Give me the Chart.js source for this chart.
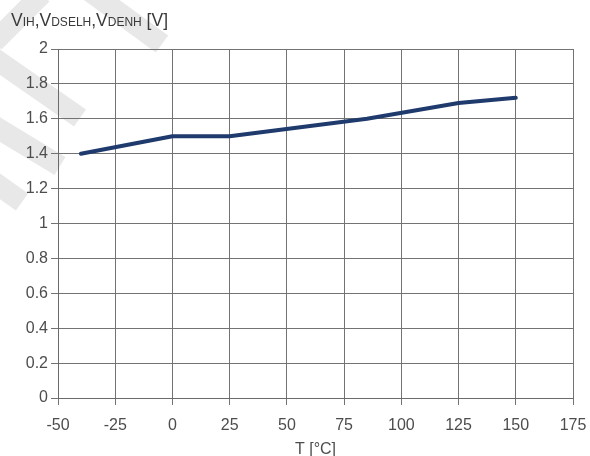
<!DOCTYPE html>
<html>
<head>
<meta charset="utf-8">
<script src="https://cdn.jsdelivr.net/npm/chart.js@4.4.1/dist/chart.umd.min.js"></script>
<style>
  html, body { margin: 0; padding: 0; background: #ffffff; }
  #wrap { width: 590px; height: 456px; position: relative; }
</style>
</head>
<body>
<div id="wrap"><canvas id="c" width="590" height="456"></canvas></div>
<script>
// Temperature (°C) and high-level input threshold voltage (V)
const temperatures = [-40, 0, 25, 85, 125, 150];
const thresholdVolts = [1.40, 1.50, 1.50, 1.60, 1.69, 1.72];

// Axis ticks and their labels
const xTicks = [-50, -25, 0, 25, 50, 75, 100, 125, 150, 175];
const xTickLabels = ['-50', '-25', '0', '25', '50', '75', '100', '125', '150', '175'];
const yTicks = [0, 0.2, 0.4, 0.6, 0.8, 1, 1.2, 1.4, 1.6, 1.8, 2];
const yTickLabels = ['0', '0.2', '0.4', '0.6', '0.8', '1', '1.2', '1.4', '1.6', '1.8', '2'];

// Axis titles; the y title mixes full-size "V" with smaller subscript letters
const yTitleParts = [
  ['V', 17.5], ['IH', 12], [',', 17.5],
  ['V', 17.5], ['DSELH', 12], [',', 17.5],
  ['V', 17.5], ['DENH', 12], [' [V]', 17.5]
];
const xTitle = 'T [°C]';

const FONT = '"Liberation Sans", Arial, sans-serif';
const TEXT = '#4d4d4d';
const GRID = '#737373';

// Faint diagonal watermark strokes behind the plot
const watermarkPlugin = {
  id: 'watermark',
  beforeDraw(chart) {
    const ctx = chart.ctx;
    const strokes = [
      [[88, -10], [162, 44]],
      [[42, -6], [-6, 42]],
      [[-6, 58], [80, 118]],
      [[-6, 126], [60, 166]],
      [[-6, 182], [22, 202]]
    ];
    ctx.save();
    ctx.strokeStyle = '#e8e8e8';
    ctx.lineWidth = 21;
    ctx.lineCap = 'butt';
    strokes.forEach(([a, b]) => {
      ctx.beginPath();
      ctx.moveTo(a[0], a[1]);
      ctx.lineTo(b[0], b[1]);
      ctx.stroke();
    });
    ctx.restore();
  }
};

// Y-axis title drawn above the plot, left aligned
const yTitlePlugin = {
  id: 'yTitle',
  afterDraw(chart) {
    const ctx = chart.ctx;
    ctx.save();
    ctx.fillStyle = '#3a3a3a';
    ctx.textBaseline = 'alphabetic';
    ctx.textAlign = 'left';
    let x = 11;
    const y = 26;
    yTitleParts.forEach(([t, size]) => {
      ctx.font = size + 'px ' + FONT;
      ctx.fillText(t, x, y);
      x += ctx.measureText(t).width;
    });
    ctx.restore();
  }
};

new Chart(document.getElementById('c'), {
  type: 'line',
  data: {
    datasets: [{
      data: temperatures.map((t, i) => ({ x: t, y: thresholdVolts[i] })),
      borderColor: '#1f3a6c',
      borderWidth: 4,
      borderCapStyle: 'round',
      borderJoinStyle: 'round',
      tension: 0,
      pointRadius: 0,
      fill: false
    }]
  },
  options: {
    responsive: false,
    animation: false,
    devicePixelRatio: 1,
    layout: { padding: { top: 49, right: 17, left: 0, bottom: 0 } },
    plugins: {
      legend: { display: false },
      tooltip: { enabled: false }
    },
    scales: {
      x: {
        type: 'linear',
        min: -50,
        max: 175,
        afterBuildTicks: axis => { axis.ticks = xTicks.map(v => ({ value: v })); },
        afterFit: axis => { axis.height = 58; },
        ticks: {
          callback: (v) => xTickLabels[xTicks.indexOf(v)],
          color: TEXT,
          font: { family: FONT, size: 16, lineHeight: 2.25 },
          padding: 3,
          maxRotation: 0,
          autoSkip: false
        },
        grid: { color: GRID, lineWidth: 1, tickLength: 7, drawTicks: true },
        border: { color: '#6a6a6a', width: 1 },
        title: {
          display: true,
          text: xTitle,
          color: TEXT,
          font: { family: FONT, size: 16, lineHeight: 0.8 },
          padding: { top: 0, bottom: 0 }
        }
      },
      y: {
        type: 'linear',
        min: 0,
        max: 2,
        afterBuildTicks: axis => { axis.ticks = yTicks.map(v => ({ value: v })); },
        afterFit: axis => { axis.width = 58; },
        ticks: {
          callback: (v) => yTickLabels[yTicks.findIndex(t => Math.abs(t - v) < 1e-9)],
          color: TEXT,
          font: { family: FONT, size: 16 },
          padding: 3,
          autoSkip: false
        },
        grid: { color: GRID, lineWidth: 1, tickLength: 7, drawTicks: true },
        border: { color: '#6a6a6a', width: 1 }
      }
    }
  },
  plugins: [watermarkPlugin, yTitlePlugin]
});
</script>
</body>
</html>
